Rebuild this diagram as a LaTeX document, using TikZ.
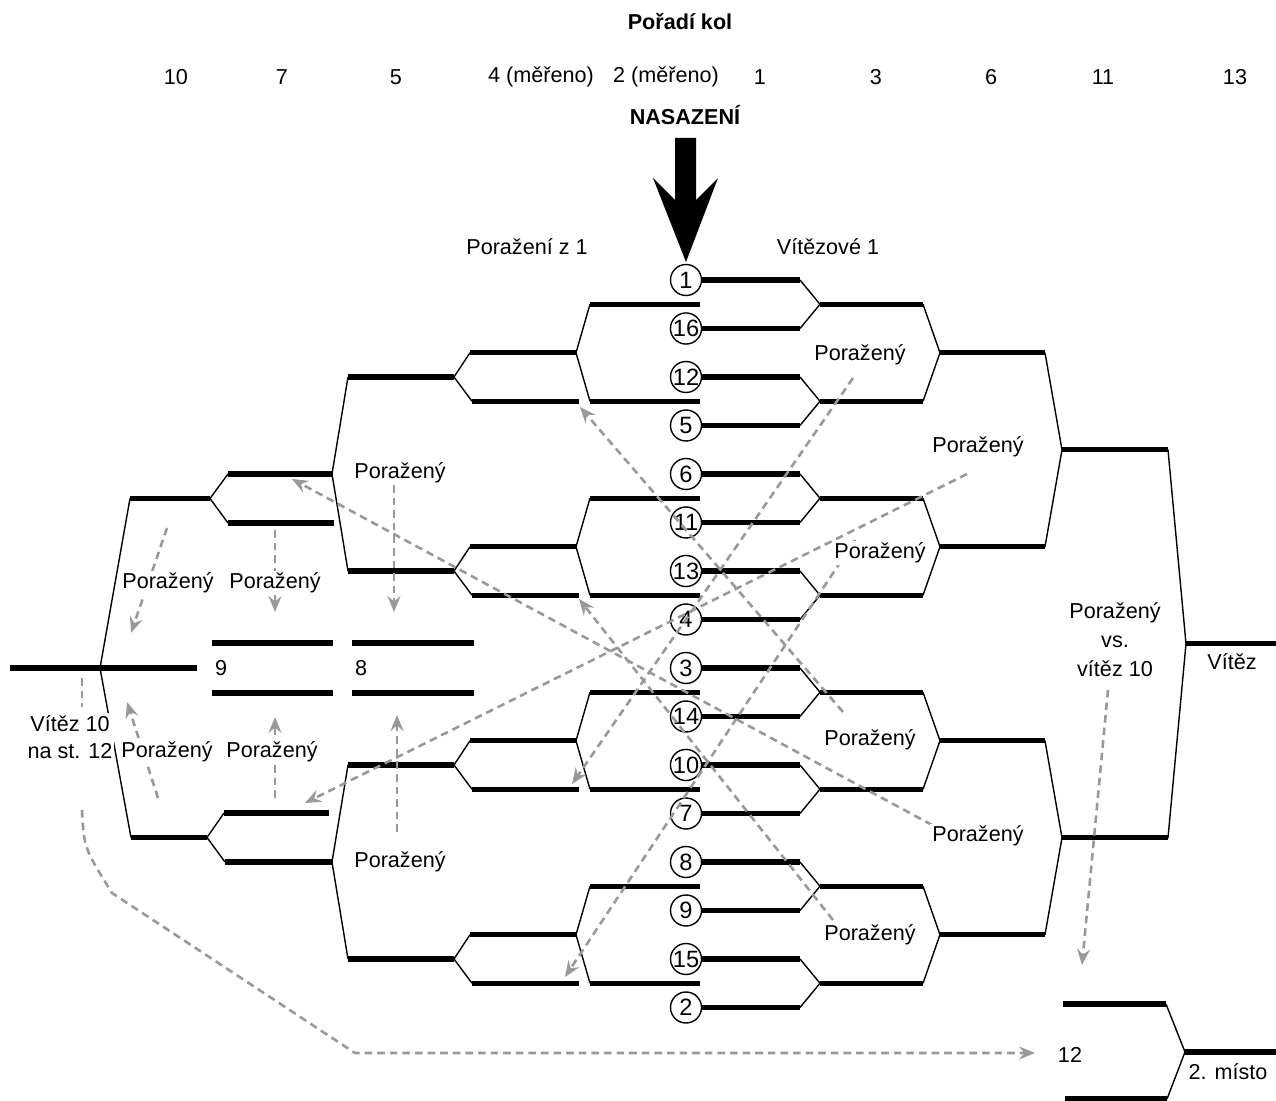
\documentclass[tikz,border=0pt]{standalone}
\usepackage{fontspec}
\setmainfont{Liberation Sans}
\usetikzlibrary{arrows.meta}

\begin{document}
\begin{tikzpicture}[x=0.5pt, y=-0.5pt, font=\fontsize{10.8}{13}\selectfont,
  bar/.style={line width=2.6pt},
  fork/.style={line width=0.7pt},
  seed/.style={circle, draw, line width=0.7pt, minimum size=15.5pt, inner sep=0pt, font=\fontsize{11.8}{13}\selectfont},
  loser/.style={gray!80, line width=1.3pt, dash pattern=on 3.8pt off 2.5pt},
  drop/.style={loser, -{Stealth[length=8pt, width=6.5pt, inset=2.8pt]}},
  tag/.style={fill=white, inner sep=1pt}]
\useasboundingbox (0,0) rectangle (1276,1101);

\path (680,22) node[font=\fontsize{10.8}{13}\selectfont\bfseries] (poradi) {Pořadí kol};
\foreach \x/\t [count=\n] in {176/10, 282/7, 396/5, 541/{4 (měřeno)}, 666/{2 (měřeno)}, 760/1, 876/3, 991/6, 1103/11, 1235/13}
  \path (\x,77) node (kolo\n) {\t};
\path (685,115) node[font=\fontsize{10.8}{13}\selectfont\bfseries] (nasazeni) {NASAZENÍ};
\fill (675,138) -- (696,138) -- (696,200) -- (718,178) -- (686,262) -- (653,178) -- (675,200) -- cycle;
\path (527,247) node (porazeni) {Poražení z 1};
\path (828,247) node (vitezove) {Vítězové 1};

\foreach \s [count=\i from 0] in {1,16,12,5,6,11,13,4,3,14,10,7,8,9,15,2} {
  \pgfmathsetmacro\y{280+48.5*\i}
  \node[seed] (s\s) at (686,\y) {\s};
  \draw[bar] (s\s.east) -- (800,\y);
}
\foreach \k in {0,...,7} {
  \pgfmathsetmacro\ya{280+97*\k}
  \pgfmathsetmacro\yb{\ya+48.5}
  \pgfmathsetmacro\ym{\ya+24.25}
  \draw[fork] (800,\ya) -- (820,\ym) -- (800,\yb);
  \draw[bar] (820,\ym) -- (923,\ym);
}
\foreach \k in {0,...,3} {
  \pgfmathsetmacro\ya{304.25+194*\k}
  \pgfmathsetmacro\yb{\ya+97}
  \pgfmathsetmacro\ym{\ya+48.5}
  \pgfmathsetmacro\yc{\ym+48.5}
  \pgfmathsetmacro\yd{\ym+24.25}
  \draw[fork] (923,\ya) -- (940,\ym) -- (923,\yb);
  \draw[bar] (940,\ym) -- (1045,\ym);
  \draw[bar] (590,\ya) -- (700,\ya);
  \draw[bar] (590,\yb) -- (700,\yb);
  \draw[fork] (590,\ya) -- (576,\ym) -- (590,\yb);
  \draw[bar] (576,\ym) -- (470,\ym);
  \draw[bar] (472,\yc) -- (579,\yc);
  \draw[fork] (470,\ym) -- (454,\yd) -- (472,\yc);
  \draw[bar] (454,\yd) -- (348,\yd);
}
\foreach \k in {0,1} {
  \pgfmathsetmacro\ya{352.75+388*\k}
  \pgfmathsetmacro\yb{\ya+194}
  \pgfmathsetmacro\ym{\ya+97}
  \draw[fork] (1045,\ya) -- (1062,\ym) -- (1045,\yb);
  \draw[bar] (1062,\ym) -- (1168,\ym);
}
\draw[fork] (1168,449.75) -- (1186,643.75) -- (1168,837.75);
\draw[bar] (1186,643.75) -- (1276,643.75);

\draw[fork] (348,377) -- (332,474) -- (348,571);
\draw[fork] (348,765) -- (332,862) -- (348,959);
\draw[bar] (332,474) -- (228,474);
\draw[bar] (228,523) -- (334,523);
\draw[fork] (228,474) -- (210,498.5) -- (228,523);
\draw[bar] (332,862) -- (225,862);
\draw[bar] (224,813) -- (329,813);
\draw[fork] (224,813) -- (207,837.5) -- (225,862);
\draw[bar] (210,498.5) -- (130,498.5);
\draw[bar] (207,837.5) -- (131,837.5);
\draw[fork] (130,498.5) -- (100,668) -- (131,837.5);
\draw[bar] (10,668) -- (197,668);

\draw[bar] (212,643) -- (333,643);
\draw[bar] (212,693) -- (333,693);
\draw[bar] (352,643) -- (474,643);
\draw[bar] (352,693) -- (474,693);
\path (208,668) node[anchor=west] (k9) {9};
\path (348,668) node[anchor=west] (k8) {8};

\draw[bar] (1063,1004) -- (1166,1004);
\draw[bar] (1065,1099) -- (1167,1099);
\draw[fork] (1166,1004) -- (1185,1052) -- (1167,1099);
\draw[bar] (1185,1052) -- (1276,1052);

\path (853,378) coordinate (t1) (572,784) coordinate (h1)
      (967,474) coordinate (t2) (305,803) coordinate (h2)
      (855,540) coordinate (t3) (565,977) coordinate (h3)
      (843,712) coordinate (t4) (580,407) coordinate (h4)
      (833,920) coordinate (t5) (579,599) coordinate (h5)
      (932,825) coordinate (t6) (292,479) coordinate (h6)
      (394,485) coordinate (t7) (394,612) coordinate (h7)
      (275,530) coordinate (t8) (275,612) coordinate (h8)
      (167,528) coordinate (t9) (131,633) coordinate (h9)
      (275,798) coordinate (t10) (275,717) coordinate (h10)
      (158,798) coordinate (t11) (127,702) coordinate (h11)
      (397,832) coordinate (t12) (397,715) coordinate (h12)
      (1108,690) coordinate (t13) (1082,965) coordinate (h13);
\foreach \n in {1,...,13}
  \draw[drop] (t\n) -- (h\n);
\path (82,678) coordinate (w1) (82,707) coordinate (w2)
      (82,810) coordinate (w3) (1035,1053) coordinate (w4);
\draw[loser] (w1) -- (w2);
\draw[drop] (w3) .. controls (84,848) .. (112,893) -- (355,1053) -- (w4);

\path (860,355) node[tag] (p1) {Poražený};
\path (978,447) node[tag] (p2) {Poražený};
\path (880,553) node[tag] (p3) {Poražený};
\path (870,740) node[tag] (p4) {Poražený};
\path (978,836) node[tag] (p5) {Poražený};
\path (870,935) node[tag] (p6) {Poražený};
\path (400,473) node[tag] (p7) {Poražený};
\path (275,583) node[tag] (p8) {Poražený};
\path (168,583) node[tag] (p9) {Poražený};
\path (272,752) node[tag] (p10) {Poražený};
\path (167,752) node[tag] (p11) {Poražený};
\path (400,862) node[tag] (p12) {Poražený};
\path (1115,640) node[tag, align=center, font=\fontsize{10.8}{14.5}\selectfont] (vs) {Poražený\\vs.\\vítěz 10};
\path (1232,662) node (vitez) {Vítěz};
\path (70,737) node[tag, align=center, font=\fontsize{10.8}{13.5}\selectfont] (v10) {Vítěz 10\\na st. 12};
\path (1070,1055) node (m12) {12};
\path (1228,1072) node (misto) {2. místo};
\end{tikzpicture}
\end{document}
